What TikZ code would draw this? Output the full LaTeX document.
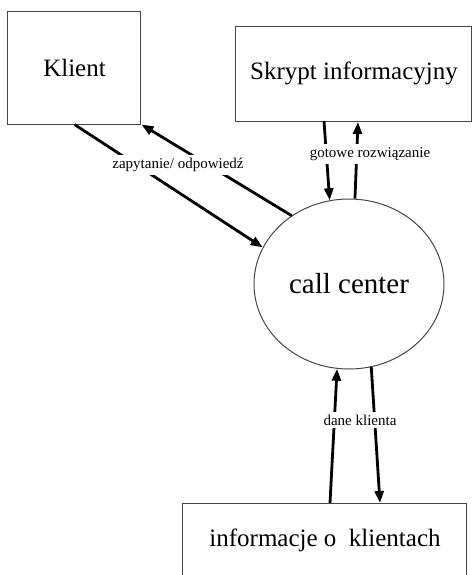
\documentclass[tikz,border=0pt]{standalone}
\usepackage{fontspec}
\setmainfont{Liberation Serif}
\usetikzlibrary{shapes.geometric, arrows.meta}
\definecolor{boxline}{RGB}{70, 70, 70}
\tikzset{
  entity/.style={rectangle, draw=boxline, line width=0.5pt, inner sep=0pt, text centered, font=\fontsize{12.5}{15}\selectfont},
  process/.style={ellipse, draw=boxline, line width=0.5pt, inner sep=0pt, minimum width=95pt, minimum height=85pt, font=\fontsize{14.5}{17}\selectfont},
  flowlabel/.style={fill=white, inner sep=1.5pt, font=\fontsize{7.5}{9}\selectfont},
  arr/.style={-{Triangle[length=6pt, width=4.5pt]}, line width=1.4pt, color=black}
}
\begin{document}
\begin{tikzpicture}[x=0.5pt, y=-0.5pt]
  \useasboundingbox (0,0) rectangle (475,575);

  \node[entity, minimum width=66.5pt, minimum height=56.5pt] (klient) at (74.5,67.5) {Klient};
  \node[entity, minimum width=118pt, minimum height=47.5pt] (skrypt) at (354,73.5) {Skrypt informacyjny};
  \node[process] (cc) at (349,284) {call center};
  \node[entity, minimum width=142pt, minimum height=37pt] (baza) at (325,540) {informacje o~ klientach};

  % punkty styku na krawedziach prostokatow
  \coordinate (s1) at (324,121);
  \coordinate (s2) at (358,122);
  \coordinate (b1) at (330,503);
  \coordinate (b2) at (380,503);

  \draw[arr] (klient.south) -- (cc.157);
  \draw[arr] (cc.130) -- (klient.south east);
  \draw[arr] (s1) -- (cc.103);
  \draw[arr] (cc.86) -- (s2);
  \draw[arr] (b1) -- (cc.262);
  \draw[arr] (cc.285) -- (b2);

  \node[flowlabel] (l1) at (178,165) {zapytanie/ odpowiedź};
  \node[flowlabel] (l2) at (370,154) {gotowe rozwiązanie};
  \node[flowlabel] (l3) at (360,420) {dane klienta};

\end{tikzpicture}
\end{document}
